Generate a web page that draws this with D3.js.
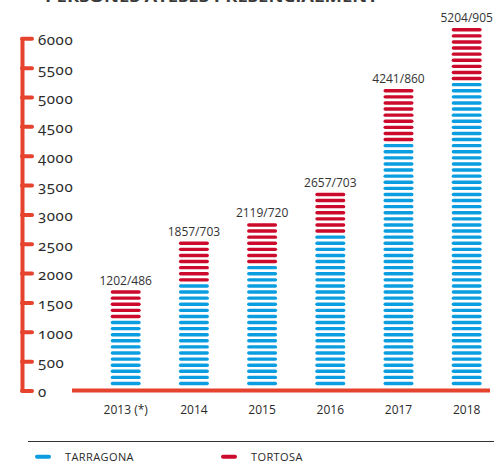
<!DOCTYPE html>
<html>
<head>
<meta charset="utf-8">
<script src="https://cdn.jsdelivr.net/npm/d3@7"></script>
<style>
  html, body { margin: 0; padding: 0; background: #fff; }
  svg { display: block; font-family: "Open Sans", "Noto Sans", sans-serif; }
  .ytick { font-family: "Noto Sans", "Open Sans", sans-serif; font-variant-numeric: oldstyle-nums; font-feature-settings: "onum" 1; }
</style>
</head>
<body>
<svg id="chart" width="494" height="463"></svg>
<script>
// ---- data ----
const years = ["2013 (*)", "2014", "2015", "2016", "2017", "2018"];
const tarragona = [1202, 1857, 2119, 2657, 4241, 5204];
const tortosa = [486, 703, 720, 703, 860, 905];
const yTicks = [0, 500, 1000, 1500, 2000, 2500, 3000, 3500, 4000, 4500, 5000, 5500, 6000];
const seriesNames = ["TARRAGONA", "TORTOSA"];
const title = "PERSONES ATESES PRESENCIALMENT";

// ---- styles ----
const BLUE = "#0a9de0", RED = "#cc0a2b", AXIS = "#e6432f", TEXT = "#2a2a2a";
const stripeStep = 103.9, stripeOffset = 119;   // value units per stripe
const barW = 30, stripeThick = 3.4;

const svg = d3.select("#chart");

const y = d3.scaleLinear().domain([0, 6000]).range([390.5, 38.3]);
const x = d3.scalePoint().domain(years).range([125.7, 466.7]);

// title (cut off at top, as in the reference)
svg.append("text")
  .attr("x", 45).attr("y", 2)
  .attr("font-size", 15).attr("font-weight", 700)
  .attr("fill", "#3a3a3a")
  .attr("textLength", 333).attr("lengthAdjust", "spacingAndGlyphs")
  .text(title);

// y axis
const axisG = svg.append("g").attr("transform", "translate(22,0)")
  .call(d3.axisRight(y).tickValues(yTicks).tickSize(10).tickSizeOuter(0).tickPadding(6)
        .tickFormat(d3.format("d")));
axisG.attr("font-family", null);
axisG.select(".domain").attr("stroke", AXIS).attr("stroke-width", 4).attr("stroke-linejoin", "miter");
axisG.selectAll(".tick line").attr("stroke", AXIS).attr("stroke-width", 4).attr("stroke-linecap", "round");
axisG.selectAll(".tick text")
  .attr("class", "ytick")
  .attr("fill", TEXT).attr("font-size", 15).attr("dy", "0.43em")
  .attr("x", 16)
  .style("letter-spacing", "0.6px");

// baseline
svg.append("line")
  .attr("x1", 72).attr("x2", 490)
  .attr("y1", y(0)).attr("y2", y(0))
  .attr("stroke", AXIS).attr("stroke-width", 4);

// bars made of stripes
years.forEach((yr, i) => {
  const T = tarragona[i], total = tarragona[i] + tortosa[i];
  const stripes = [];
  for (let k = 0; ; k++) {
    const v = stripeOffset + k * stripeStep;
    if (v > total + 40) break;
    stripes.push({ v, c: v <= T + 20 ? BLUE : RED });
  }
  const cx = x(yr);
  const g = svg.append("g");
  g.selectAll("line").data(stripes).join("line")
    .attr("x1", cx - barW / 2 + stripeThick / 2)
    .attr("x2", cx + barW / 2 - stripeThick / 2)
    .attr("y1", d => y(d.v)).attr("y2", d => y(d.v))
    .attr("stroke", d => d.c)
    .attr("stroke-width", stripeThick)
    .attr("stroke-linecap", "round");
  const topV = stripes[stripes.length - 1].v;
  svg.append("text")
    .attr("x", cx).attr("y", y(topV) - 7.5)
    .attr("text-anchor", "middle")
    .attr("font-size", 12).attr("fill", "#333")
    .text(T + "/" + tortosa[i]);
});

// x labels
svg.append("g").selectAll("text").data(years).join("text")
  .attr("x", d => x(d)).attr("y", 414)
  .attr("text-anchor", "middle")
  .attr("font-size", 12).attr("fill", TEXT)
  .text(d => d);

// legend separator
svg.append("line")
  .attr("x1", 28).attr("x2", 494)
  .attr("y1", 441.5).attr("y2", 441.5)
  .attr("stroke", "#333").attr("stroke-width", 1.2);

// legend
const legX = [35, 221];
seriesNames.forEach((name, i) => {
  const g = svg.append("g").attr("transform", `translate(${legX[i]},456.7)`);
  g.append("line")
    .attr("x1", 2).attr("x2", 14)
    .attr("stroke", i === 0 ? BLUE : RED)
    .attr("stroke-width", 4).attr("stroke-linecap", "round");
  g.append("text")
    .attr("x", 30).attr("y", 4.5)
    .attr("font-size", 11).attr("fill", TEXT)
    .style("letter-spacing", "0.4px")
    .text(name);
});
</script>
</body>
</html>
